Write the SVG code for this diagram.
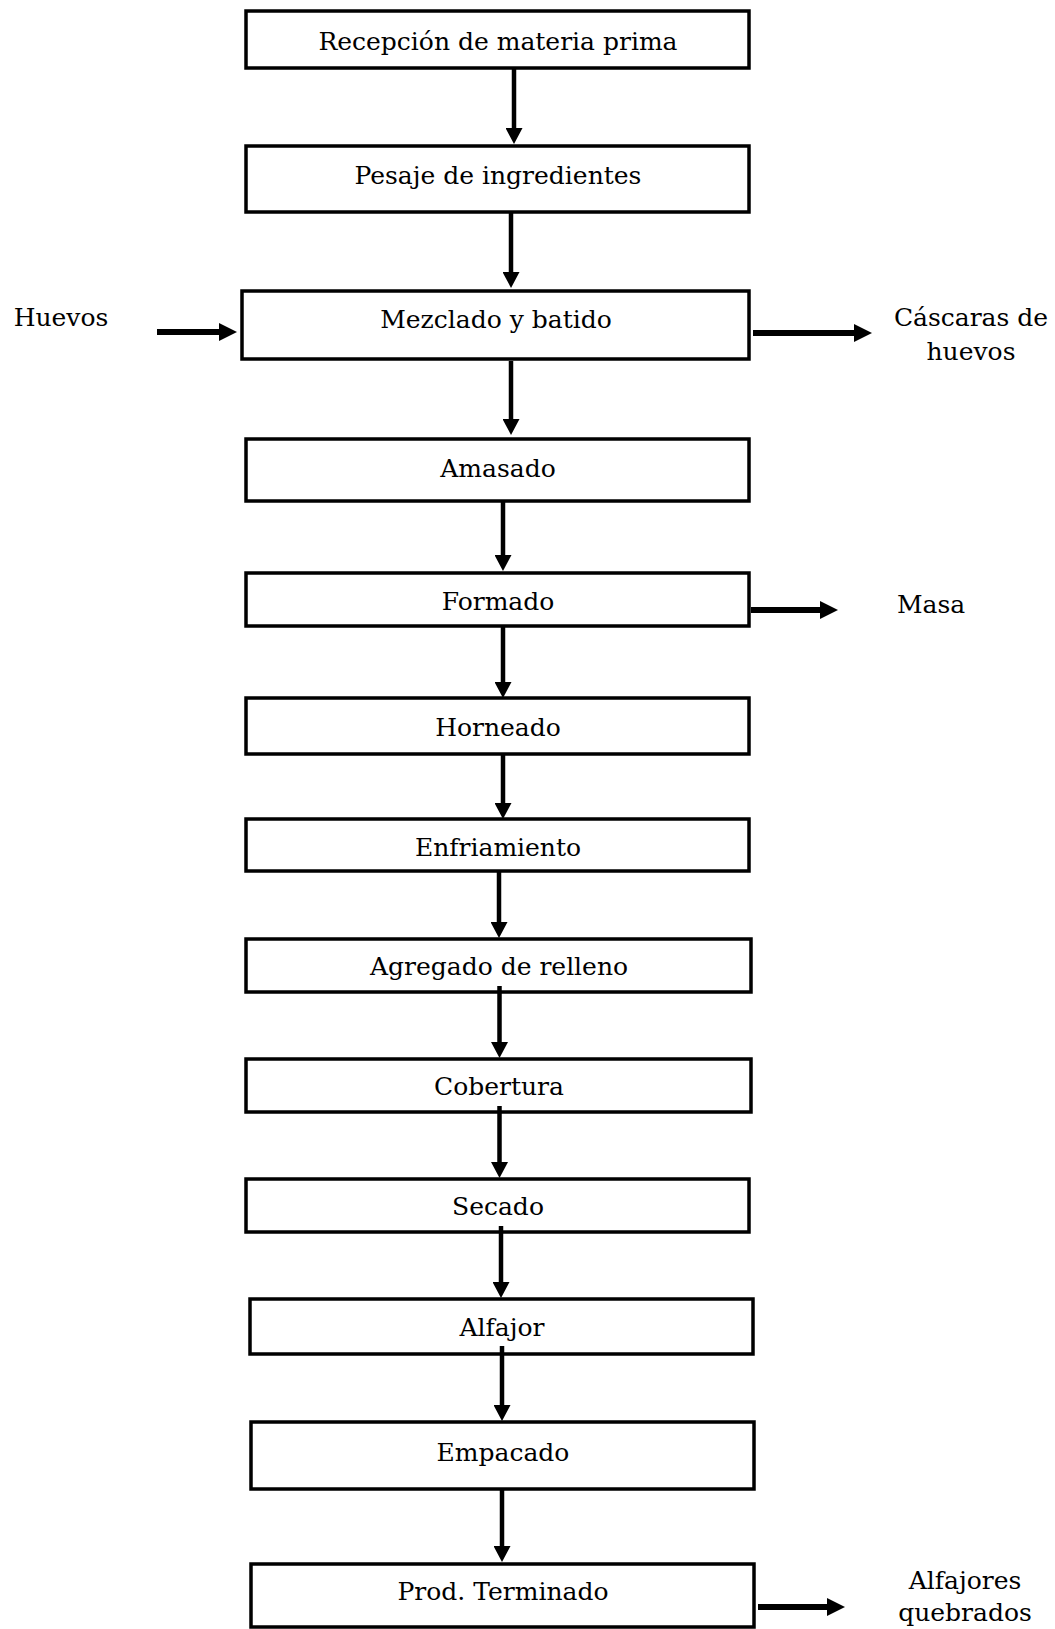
<svg xmlns="http://www.w3.org/2000/svg" width="1055" height="1629" viewBox="0 0 1055 1629">
<style>
.box{fill:#fff;stroke:#000;stroke-width:3.5}
.t{font-family:"DejaVu Serif","Liberation Serif",serif;font-size:25px;fill:#000;text-anchor:middle}
.v{stroke:#000;stroke-width:4.5;fill:none}
.h{stroke:#000;stroke-width:6;fill:none}
</style>
<defs>
<marker id="ah" viewBox="0 0 16 17" refX="1" refY="8.5" markerWidth="16" markerHeight="17" markerUnits="userSpaceOnUse" orient="auto">
<path d="M0,0 L16,8.5 L0,17 z" fill="#000"/>
</marker>
<marker id="ahb" viewBox="0 0 18 18" refX="1" refY="9" markerWidth="18" markerHeight="18" markerUnits="userSpaceOnUse" orient="auto">
<path d="M0,0 L18,9 L0,18 z" fill="#000"/>
</marker>
</defs>
<rect width="1055" height="1629" fill="#fff"/>
<g id="n1"><rect class="box" x="246" y="11" width="503" height="57"/><text class="t" x="498" y="50">Recepción de materia prima</text></g>
<g id="n2"><rect class="box" x="246" y="146" width="503" height="66"/><text class="t" x="498" y="184">Pesaje de ingredientes</text></g>
<g id="n3"><rect class="box" x="242" y="291" width="507" height="68"/><text class="t" x="496" y="328">Mezclado y batido</text></g>
<g id="n4"><rect class="box" x="246" y="439" width="503" height="62"/><text class="t" x="498" y="477">Amasado</text></g>
<g id="n5"><rect class="box" x="246" y="573" width="503" height="53"/><text class="t" x="498" y="610">Formado</text></g>
<g id="n6"><rect class="box" x="246" y="698" width="503" height="56"/><text class="t" x="498" y="736">Horneado</text></g>
<g id="n7"><rect class="box" x="246" y="819" width="503" height="52"/><text class="t" x="498" y="856">Enfriamiento</text></g>
<g id="n8"><rect class="box" x="246" y="939" width="505" height="53"/><text class="t" x="499" y="975">Agregado de relleno</text></g>
<g id="n9"><rect class="box" x="246" y="1059" width="505" height="53"/><text class="t" x="499" y="1095">Cobertura</text></g>
<g id="n10"><rect class="box" x="246" y="1179" width="503" height="53"/><text class="t" x="498" y="1215">Secado</text></g>
<g id="n11"><rect class="box" x="250" y="1299" width="503" height="55"/><text class="t" x="502" y="1336">Alfajor</text></g>
<g id="n12"><rect class="box" x="251" y="1422" width="503" height="67"/><text class="t" x="503" y="1461">Empacado</text></g>
<g id="n13"><rect class="box" x="251" y="1564" width="503" height="63"/><text class="t" x="503" y="1600">Prod. Terminado</text></g>
<g id="huevos"><text class="t" x="61" y="326">Huevos</text></g>
<g id="cascaras"><text class="t" x="971" y="326">Cáscaras de</text><text class="t" x="971" y="360">huevos</text></g>
<g id="masa"><text class="t" x="931" y="613">Masa</text></g>
<g id="quebrados"><text class="t" x="965" y="1589">Alfajores</text><text class="t" x="965" y="1621">quebrados</text></g>
<g id="connectors">
<line class="v" x1="514" y1="69" x2="514" y2="129" marker-end="url(#ah)"/>
<line class="v" x1="511" y1="213" x2="511" y2="273" marker-end="url(#ah)"/>
<line class="v" x1="511" y1="361" x2="511" y2="420" marker-end="url(#ah)"/>
<line class="v" x1="503" y1="502" x2="503" y2="556" marker-end="url(#ah)"/>
<line class="v" x1="503" y1="627" x2="503" y2="683" marker-end="url(#ah)"/>
<line class="v" x1="503" y1="755" x2="503" y2="804" marker-end="url(#ah)"/>
<line class="v" x1="499" y1="872" x2="499" y2="923" marker-end="url(#ah)"/>
<line class="v" x1="499.5" y1="986" x2="499.5" y2="1043" marker-end="url(#ah)"/>
<line class="v" x1="499.5" y1="1106" x2="499.5" y2="1163" marker-end="url(#ah)"/>
<line class="v" x1="501" y1="1226" x2="501" y2="1283" marker-end="url(#ah)"/>
<line class="v" x1="502" y1="1346" x2="502" y2="1406" marker-end="url(#ah)"/>
<line class="v" x1="502" y1="1490" x2="502" y2="1547" marker-end="url(#ah)"/>
<line class="h" x1="157" y1="332" x2="220" y2="332" marker-end="url(#ahb)"/>
<line class="h" x1="753" y1="333" x2="855" y2="333" marker-end="url(#ahb)"/>
<line class="h" x1="751" y1="610" x2="821" y2="610" marker-end="url(#ahb)"/>
<line class="h" x1="758" y1="1607" x2="828" y2="1607" marker-end="url(#ahb)"/>
</g>
</svg>
